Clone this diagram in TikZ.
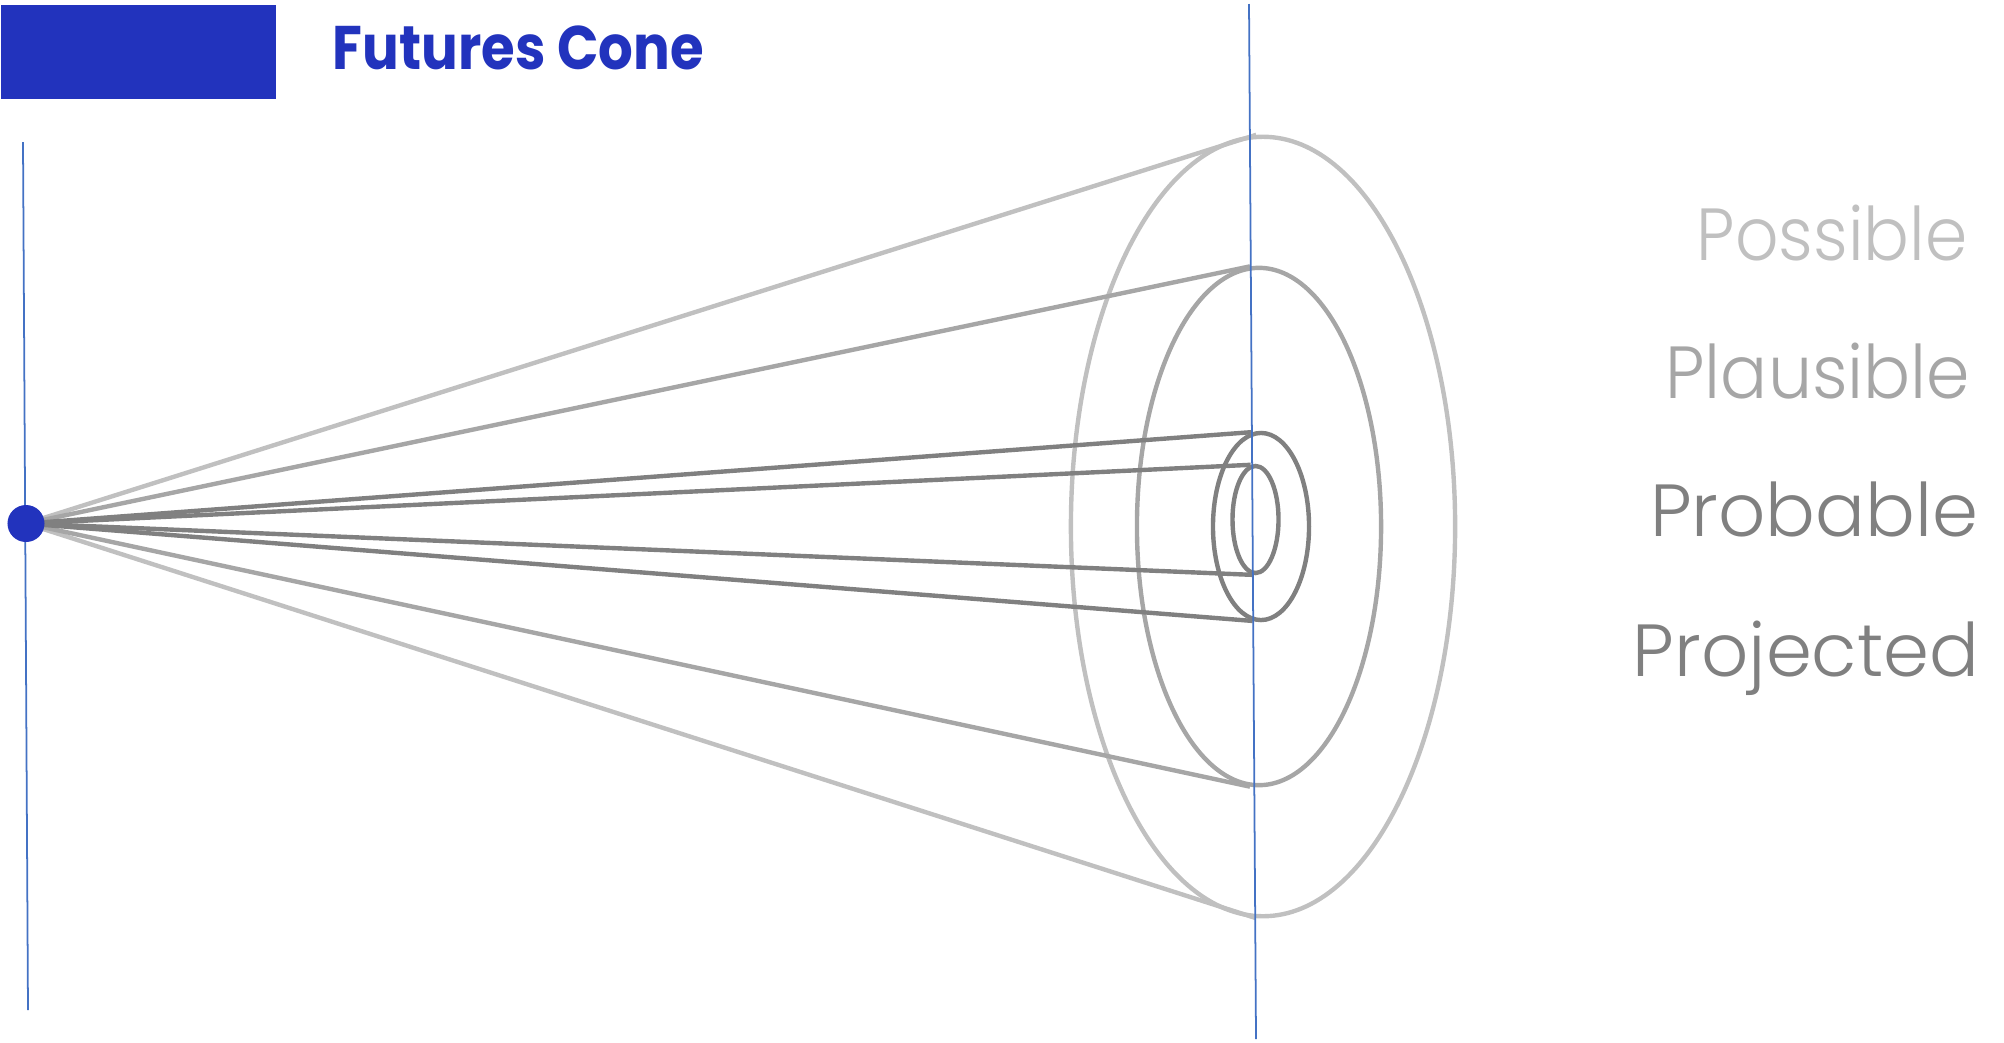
\documentclass[tikz,border=0pt]{standalone}
\usepackage{fontspec}
\setmainfont{Poppins}
\newfontfamily\lightfont{Poppins Light}
\usetikzlibrary{shapes.geometric}
\definecolor{brandblue}{HTML}{2233BD}
\definecolor{axisblue}{HTML}{4472C4}
\definecolor{possgray}{HTML}{C0C0C0}
\definecolor{plausgray}{HTML}{A6A6A6}
\definecolor{probgray}{HTML}{808080}
\tikzset{
  cone/.style={ellipse, draw, inner sep=0pt, line width=1.25pt},
  ray/.style={line width=1.25pt},
  axisline/.style={draw=axisblue, line width=0.5pt},
  label/.style={anchor=base east, inner sep=0pt, font=\lightfont\fontsize{21}{24}\selectfont}
}
\begin{document}
\begin{tikzpicture}[x=0.01cm,y=-0.01cm]
\useasboundingbox (0,0) rectangle (2004,1042);
\node[fill=brandblue, inner sep=0pt, minimum width=2.75cm, minimum height=0.94cm, anchor=north west] (banner) at (0,4) {};
\node[anchor=base west, inner sep=0pt, text=brandblue, font=\bfseries\fontsize{17.5}{20}\selectfont] (title) at (332,69) {\scalebox{0.886}[1]{Futures Cone}};
% ellipses
\node[cone, draw=possgray, minimum width=3.84cm, minimum height=7.79cm] (possE) at (1263,526.5) {};
\node[cone, draw=plausgray, minimum width=2.44cm, minimum height=5.17cm] (plauE) at (1259,526.5) {};
\node[cone, draw=probgray, minimum width=0.96cm, minimum height=1.87cm] (probE) at (1261,526.5) {};
\node[cone, draw=probgray, minimum width=0.46cm, minimum height=1.07cm] (projE) at (1255.5,519.5) {};
% rays
\coordinate (origin) at (26,523.5);
\draw[ray, possgray] (origin) -- (possE.91.6);
\draw[ray, possgray] (origin) -- (possE.-91.6);
\draw[ray, plausgray] (origin) -- (plauE.92);
\draw[ray, plausgray] (origin) -- (plauE.-92);
\draw[ray, probgray] (origin) -- (probE.95.5);
\draw[ray, probgray] (origin) -- (probE.-95.5);
\draw[ray, probgray] (origin) -- (projE.95);
\draw[ray, probgray] (origin) -- (projE.-93);
% axes
\coordinate (ltop) at (23,142);
\coordinate (lbot) at (28,1010);
\coordinate (rtop) at (1249,4);
\coordinate (rbot) at (1256,1039);
\draw[axisline] (ltop) -- (lbot);
\draw[axisline] (rtop) -- (rbot);
% present
\node[circle, fill=brandblue, inner sep=0pt, minimum size=0.37cm] (now) at (origin) {};
% labels
\node[label, text=possgray] (lposs) at (1968,260) {\scalebox{0.92}[1]{Possible}};
\node[label, text=plausgray] (lplau) at (1971,398) {\scalebox{0.945}[1]{Plausible}};
\node[label, text=probgray] (lprob) at (1979,536) {Probable};
\node[label, text=probgray] (lproj) at (1980,676) {Projected};
\end{tikzpicture}
\end{document}
